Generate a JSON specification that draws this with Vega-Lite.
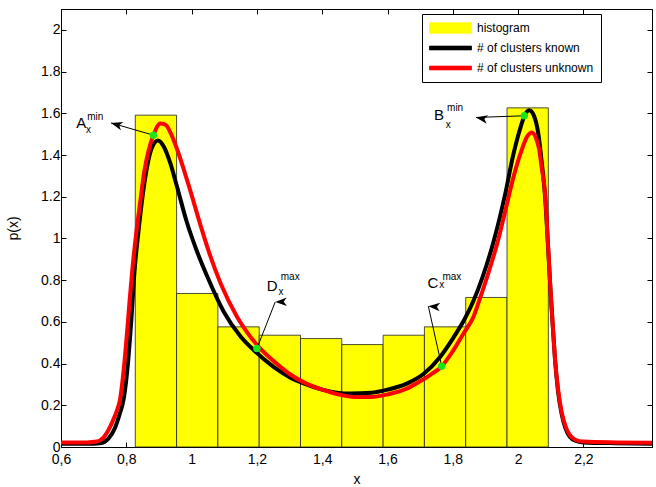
{
  "$schema": "https://vega.github.io/schema/vega-lite/v6.json",
  "width": 591,
  "height": 438,
  "autosize": "none",
  "padding": {"left": 61, "top": 9, "right": 4, "bottom": 40},
  "background": "white",
  "config": {
    "view": {"stroke": "black", "strokeWidth": 1},
    "font": "Liberation Sans",
    "axis": {
      "grid": false,
      "domainColor": "black",
      "tickColor": "black",
      "labelColor": "black",
      "titleColor": "black",
      "labelFont": "Liberation Sans",
      "titleFont": "Liberation Sans",
      "labelFontSize": 14,
      "titleFontSize": 14,
      "titleFontWeight": "normal",
      "tickSize": -5,
      "labelFlush": false,
      "labelOverlap": false
    },
    "legend": {
      "orient": "none",
      "legendX": 361,
      "legendY": 5,
      "strokeColor": "black",
      "fillColor": "white",
      "padding": 7,
      "cornerRadius": 0,
      "labelFont": "Liberation Sans",
      "labelFontSize": 12,
      "labelColor": "black",
      "labelOffset": 5,
      "symbolSize": 1764,
      "symbolStrokeWidth": 0.8,
      "clipHeight": 14,
      "rowPadding": 6
    }
  },
  "datasets": {
    "hist": [
      {"x0": 0.8275, "x1": 0.954, "p": 1.591},
      {"x0": 0.954, "x1": 1.0805, "p": 0.736},
      {"x0": 1.0805, "x1": 1.207, "p": 0.576},
      {"x0": 1.207, "x1": 1.3335, "p": 0.536},
      {"x0": 1.3335, "x1": 1.46, "p": 0.52},
      {"x0": 1.46, "x1": 1.5865, "p": 0.491},
      {"x0": 1.5865, "x1": 1.713, "p": 0.536},
      {"x0": 1.713, "x1": 1.8395, "p": 0.576},
      {"x0": 1.8395, "x1": 1.966, "p": 0.717},
      {"x0": 1.966, "x1": 2.0925, "p": 1.626}
    ],
    "curves": [
      {"series": "# of clusters known", "x": 0.60, "p": 0.015},
      {"series": "# of clusters known", "x": 0.68, "p": 0.015},
      {"series": "# of clusters known", "x": 0.72, "p": 0.018},
      {"series": "# of clusters known", "x": 0.745, "p": 0.04},
      {"series": "# of clusters known", "x": 0.765, "p": 0.09},
      {"series": "# of clusters known", "x": 0.78, "p": 0.16},
      {"series": "# of clusters known", "x": 0.792, "p": 0.23},
      {"series": "# of clusters known", "x": 0.805, "p": 0.40},
      {"series": "# of clusters known", "x": 0.815, "p": 0.60},
      {"series": "# of clusters known", "x": 0.825, "p": 0.84},
      {"series": "# of clusters known", "x": 0.837, "p": 1.03},
      {"series": "# of clusters known", "x": 0.848, "p": 1.18},
      {"series": "# of clusters known", "x": 0.86, "p": 1.31},
      {"series": "# of clusters known", "x": 0.875, "p": 1.42},
      {"series": "# of clusters known", "x": 0.897, "p": 1.47},
      {"series": "# of clusters known", "x": 0.915, "p": 1.44},
      {"series": "# of clusters known", "x": 0.935, "p": 1.36},
      {"series": "# of clusters known", "x": 0.955, "p": 1.25},
      {"series": "# of clusters known", "x": 0.985, "p": 1.08},
      {"series": "# of clusters known", "x": 1.016, "p": 0.94},
      {"series": "# of clusters known", "x": 1.05, "p": 0.81},
      {"series": "# of clusters known", "x": 1.098, "p": 0.65},
      {"series": "# of clusters known", "x": 1.15, "p": 0.53},
      {"series": "# of clusters known", "x": 1.19, "p": 0.465},
      {"series": "# of clusters known", "x": 1.25, "p": 0.385},
      {"series": "# of clusters known", "x": 1.30, "p": 0.335},
      {"series": "# of clusters known", "x": 1.343, "p": 0.305},
      {"series": "# of clusters known", "x": 1.40, "p": 0.275},
      {"series": "# of clusters known", "x": 1.486, "p": 0.256},
      {"series": "# of clusters known", "x": 1.55, "p": 0.26},
      {"series": "# of clusters known", "x": 1.60, "p": 0.275},
      {"series": "# of clusters known", "x": 1.659, "p": 0.304},
      {"series": "# of clusters known", "x": 1.71, "p": 0.35},
      {"series": "# of clusters known", "x": 1.761, "p": 0.432},
      {"series": "# of clusters known", "x": 1.80, "p": 0.52},
      {"series": "# of clusters known", "x": 1.835, "p": 0.61},
      {"series": "# of clusters known", "x": 1.863, "p": 0.70},
      {"series": "# of clusters known", "x": 1.89, "p": 0.81},
      {"series": "# of clusters known", "x": 1.924, "p": 0.98},
      {"series": "# of clusters known", "x": 1.96, "p": 1.21},
      {"series": "# of clusters known", "x": 1.985, "p": 1.40},
      {"series": "# of clusters known", "x": 2.005, "p": 1.52},
      {"series": "# of clusters known", "x": 2.02, "p": 1.59},
      {"series": "# of clusters known", "x": 2.034, "p": 1.615},
      {"series": "# of clusters known", "x": 2.048, "p": 1.59},
      {"series": "# of clusters known", "x": 2.062, "p": 1.50},
      {"series": "# of clusters known", "x": 2.072, "p": 1.37},
      {"series": "# of clusters known", "x": 2.083, "p": 1.19},
      {"series": "# of clusters known", "x": 2.092, "p": 0.95},
      {"series": "# of clusters known", "x": 2.10, "p": 0.73},
      {"series": "# of clusters known", "x": 2.107, "p": 0.56},
      {"series": "# of clusters known", "x": 2.113, "p": 0.42},
      {"series": "# of clusters known", "x": 2.122, "p": 0.27},
      {"series": "# of clusters known", "x": 2.133, "p": 0.16},
      {"series": "# of clusters known", "x": 2.145, "p": 0.09},
      {"series": "# of clusters known", "x": 2.158, "p": 0.05},
      {"series": "# of clusters known", "x": 2.175, "p": 0.03},
      {"series": "# of clusters known", "x": 2.2, "p": 0.022},
      {"series": "# of clusters known", "x": 2.3, "p": 0.018},
      {"series": "# of clusters known", "x": 2.41, "p": 0.016},
      {"series": "# of clusters unknown", "x": 0.60, "p": 0.022},
      {"series": "# of clusters unknown", "x": 0.68, "p": 0.022},
      {"series": "# of clusters unknown", "x": 0.71, "p": 0.026},
      {"series": "# of clusters unknown", "x": 0.73, "p": 0.045},
      {"series": "# of clusters unknown", "x": 0.745, "p": 0.08},
      {"series": "# of clusters unknown", "x": 0.76, "p": 0.13},
      {"series": "# of clusters unknown", "x": 0.77, "p": 0.17},
      {"series": "# of clusters unknown", "x": 0.781, "p": 0.23},
      {"series": "# of clusters unknown", "x": 0.792, "p": 0.37},
      {"series": "# of clusters unknown", "x": 0.802, "p": 0.545},
      {"series": "# of clusters unknown", "x": 0.81, "p": 0.70},
      {"series": "# of clusters unknown", "x": 0.819, "p": 0.86},
      {"series": "# of clusters unknown", "x": 0.83, "p": 1.02},
      {"series": "# of clusters unknown", "x": 0.843, "p": 1.18},
      {"series": "# of clusters unknown", "x": 0.855, "p": 1.32},
      {"series": "# of clusters unknown", "x": 0.868, "p": 1.42},
      {"series": "# of clusters unknown", "x": 0.883, "p": 1.495},
      {"series": "# of clusters unknown", "x": 0.904, "p": 1.551},
      {"series": "# of clusters unknown", "x": 0.92, "p": 1.545},
      {"series": "# of clusters unknown", "x": 0.94, "p": 1.49},
      {"series": "# of clusters unknown", "x": 0.955, "p": 1.43},
      {"series": "# of clusters unknown", "x": 0.99, "p": 1.26},
      {"series": "# of clusters unknown", "x": 1.026, "p": 1.07},
      {"series": "# of clusters unknown", "x": 1.052, "p": 0.94},
      {"series": "# of clusters unknown", "x": 1.09, "p": 0.78},
      {"series": "# of clusters unknown", "x": 1.139, "p": 0.625},
      {"series": "# of clusters unknown", "x": 1.17, "p": 0.55},
      {"series": "# of clusters unknown", "x": 1.215, "p": 0.464},
      {"series": "# of clusters unknown", "x": 1.26, "p": 0.40},
      {"series": "# of clusters unknown", "x": 1.30, "p": 0.35},
      {"series": "# of clusters unknown", "x": 1.35, "p": 0.305},
      {"series": "# of clusters unknown", "x": 1.40, "p": 0.275},
      {"series": "# of clusters unknown", "x": 1.45, "p": 0.252},
      {"series": "# of clusters unknown", "x": 1.50, "p": 0.24},
      {"series": "# of clusters unknown", "x": 1.55, "p": 0.24},
      {"series": "# of clusters unknown", "x": 1.60, "p": 0.252},
      {"series": "# of clusters unknown", "x": 1.659, "p": 0.28},
      {"series": "# of clusters unknown", "x": 1.70, "p": 0.315},
      {"series": "# of clusters unknown", "x": 1.73, "p": 0.345},
      {"series": "# of clusters unknown", "x": 1.766, "p": 0.387},
      {"series": "# of clusters unknown", "x": 1.80, "p": 0.46},
      {"series": "# of clusters unknown", "x": 1.835, "p": 0.55},
      {"series": "# of clusters unknown", "x": 1.863, "p": 0.623},
      {"series": "# of clusters unknown", "x": 1.883, "p": 0.712},
      {"series": "# of clusters unknown", "x": 1.91, "p": 0.84},
      {"series": "# of clusters unknown", "x": 1.935, "p": 0.97},
      {"series": "# of clusters unknown", "x": 1.965, "p": 1.16},
      {"series": "# of clusters unknown", "x": 1.985, "p": 1.29},
      {"series": "# of clusters unknown", "x": 2.01, "p": 1.42},
      {"series": "# of clusters unknown", "x": 2.028, "p": 1.49},
      {"series": "# of clusters unknown", "x": 2.042, "p": 1.508},
      {"series": "# of clusters unknown", "x": 2.055, "p": 1.48},
      {"series": "# of clusters unknown", "x": 2.064, "p": 1.43},
      {"series": "# of clusters unknown", "x": 2.072, "p": 1.34},
      {"series": "# of clusters unknown", "x": 2.083, "p": 1.207},
      {"series": "# of clusters unknown", "x": 2.092, "p": 0.96},
      {"series": "# of clusters unknown", "x": 2.10, "p": 0.73},
      {"series": "# of clusters unknown", "x": 2.107, "p": 0.56},
      {"series": "# of clusters unknown", "x": 2.113, "p": 0.42},
      {"series": "# of clusters unknown", "x": 2.122, "p": 0.28},
      {"series": "# of clusters unknown", "x": 2.133, "p": 0.17},
      {"series": "# of clusters unknown", "x": 2.145, "p": 0.10},
      {"series": "# of clusters unknown", "x": 2.158, "p": 0.058},
      {"series": "# of clusters unknown", "x": 2.175, "p": 0.035},
      {"series": "# of clusters unknown", "x": 2.2, "p": 0.026},
      {"series": "# of clusters unknown", "x": 2.3, "p": 0.022},
      {"series": "# of clusters unknown", "x": 2.41, "p": 0.02}
    ],
    "arrows": [
      {"name": "A", "x": 0.883, "y": 1.495, "tx": 0.753, "ty": 1.554},
      {"name": "B", "x": 2.019, "y": 1.588, "tx": 1.871, "ty": 1.58},
      {"name": "C", "x": 1.766, "y": 0.387, "tx": 1.725, "ty": 0.675},
      {"name": "D", "x": 1.2, "y": 0.472, "tx": 1.256, "ty": 0.695}
    ],
    "letters": [
      {"t": "A", "x": 0.662, "y": 1.553},
      {"t": "B", "x": 1.758, "y": 1.591},
      {"t": "C", "x": 1.739, "y": 0.785},
      {"t": "D", "x": 1.247, "y": 0.771}
    ],
    "scripts": [
      {"t": "min", "x": 0.705, "y": 1.581},
      {"t": "x", "x": 0.684, "y": 1.519},
      {"t": "min", "x": 1.807, "y": 1.624},
      {"t": "x", "x": 1.786, "y": 1.543},
      {"t": "max", "x": 1.797, "y": 0.814},
      {"t": "x", "x": 1.766, "y": 0.775},
      {"t": "max", "x": 1.302, "y": 0.814},
      {"t": "x", "x": 1.274, "y": 0.742}
    ]
  },
  "layer": [
    {
      "data": {"name": "hist"},
      "mark": {"type": "bar", "stroke": "#222222", "strokeWidth": 0.8, "opacity": 1},
      "encoding": {
        "x": {
          "field": "x0", "type": "quantitative",
          "scale": {"domain": [0.6, 2.41], "nice": false, "zero": false},
          "axis": {
            "orient": "bottom", "title": "x",
            "values": [0.6, 0.8, 1, 1.2, 1.4, 1.6, 1.8, 2, 2.2],
            "labelExpr": "replace(format(datum.value, '~g'), '.', ',')",
            "labelPadding": 10, "titlePadding": 6
          }
        },
        "x2": {"field": "x1"},
        "y": {
          "field": "p", "type": "quantitative",
          "scale": {"domain": [0, 2.1], "nice": false, "zero": true},
          "axis": {
            "orient": "left", "title": "p(x)",
            "values": [0, 0.2, 0.4, 0.6, 0.8, 1, 1.2, 1.4, 1.6, 1.8, 2],
            "labelExpr": "format(datum.value, '~g')",
            "labelPadding": 6, "titlePadding": 20
          }
        },
        "y2": {"datum": 0},
        "color": {
          "datum": "histogram", "type": "nominal", "title": null,
          "scale": {
            "domain": ["histogram", "# of clusters known", "# of clusters unknown"],
            "range": ["#ffff00", "#000000", "#ff0000"]
          },
          "legend": {
            "title": null,
            "encode": {
              "symbols": {
                "update": {
                  "shape": {"signal": "datum.value === 'histogram' ? 'M-1,-0.25H1V0.25H-1Z' : 'M-1,-0.09H1V0.09H-1Z'"},
                  "fill": {"signal": "datum.value === 'histogram' ? '#ffff00' : (datum.value === '# of clusters known' ? '#000000' : '#ff0000')"},
                  "stroke": {"signal": "datum.value === 'histogram' ? '#000000' : (datum.value === '# of clusters known' ? '#000000' : '#ff0000')"},
                  "strokeWidth": {"value": 0.8},
                  "opacity": {"value": 1},
                  "fillOpacity": {"value": 1},
                  "strokeOpacity": {"value": 1}
                }
              }
            }
          }
        }
      }
    },
    {
      "data": {"name": "curves"},
      "mark": {"type": "line", "strokeWidth": 4, "interpolate": "monotone"},
      "encoding": {
        "x": {"field": "x", "type": "quantitative",
          "axis": {"orient": "top", "title": null, "labels": false,
            "values": [0.6, 0.8, 1, 1.2, 1.4, 1.6, 1.8, 2, 2.2]}},
        "y": {"field": "p", "type": "quantitative",
          "axis": {"orient": "right", "title": null, "labels": false,
            "values": [0, 0.2, 0.4, 0.6, 0.8, 1, 1.2, 1.4, 1.6, 1.8, 2]}},
        "color": {"field": "series", "type": "nominal", "title": null,
          "legend": {
            "title": null,
            "encode": {
              "symbols": {
                "update": {
                  "shape": {"signal": "datum.value === 'histogram' ? 'M-1,-0.25H1V0.25H-1Z' : 'M-1,-0.09H1V0.09H-1Z'"},
                  "fill": {"signal": "datum.value === 'histogram' ? '#ffff00' : (datum.value === '# of clusters known' ? '#000000' : '#ff0000')"},
                  "stroke": {"signal": "datum.value === 'histogram' ? '#000000' : (datum.value === '# of clusters known' ? '#000000' : '#ff0000')"},
                  "strokeWidth": {"value": 0.8},
                  "opacity": {"value": 1},
                  "fillOpacity": {"value": 1},
                  "strokeOpacity": {"value": 1}
                }
              }
            }
          }
        }
      }
    },
    {
      "data": {"name": "arrows"},
      "mark": {"type": "rule", "color": "black", "strokeWidth": 1},
      "encoding": {
        "x": {"field": "x", "type": "quantitative", "axis": null},
        "y": {"field": "y", "type": "quantitative", "axis": null},
        "x2": {"field": "tx"},
        "y2": {"field": "ty"}
      }
    },
    {
      "data": {"name": "arrows"},
      "mark": {"type": "point", "shape": "M0,0L0.55,1.5L0,1.1L-0.55,1.5Z", "filled": true, "color": "black", "opacity": 1, "size": 240},
      "encoding": {
        "x": {"field": "tx", "type": "quantitative", "axis": null},
        "y": {"field": "ty", "type": "quantitative", "axis": null},
        "angle": {"field": "name", "type": "nominal",
          "scale": {"domain": ["A", "B", "C", "D"], "range": [286, 268, 347, 21]},
          "legend": null}
      }
    },
    {
      "data": {"name": "arrows"},
      "mark": {"type": "point", "shape": "circle", "filled": true, "color": "#19e619", "opacity": 1, "size": 55},
      "encoding": {
        "x": {"field": "x", "type": "quantitative", "axis": null},
        "y": {"field": "y", "type": "quantitative", "axis": null}
      }
    },
    {
      "data": {"name": "letters"},
      "mark": {"type": "text", "fontSize": 15, "font": "Liberation Sans", "color": "black", "align": "center", "baseline": "middle"},
      "encoding": {
        "x": {"field": "x", "type": "quantitative", "axis": null},
        "y": {"field": "y", "type": "quantitative", "axis": null},
        "text": {"field": "t"}
      }
    },
    {
      "data": {"name": "scripts"},
      "mark": {"type": "text", "fontSize": 10, "font": "Liberation Sans", "color": "black", "align": "center", "baseline": "middle"},
      "encoding": {
        "x": {"field": "x", "type": "quantitative", "axis": null},
        "y": {"field": "y", "type": "quantitative", "axis": null},
        "text": {"field": "t"}
      }
    }
  ],
  "resolve": {"axis": {"x": "independent", "y": "independent"}}
}
